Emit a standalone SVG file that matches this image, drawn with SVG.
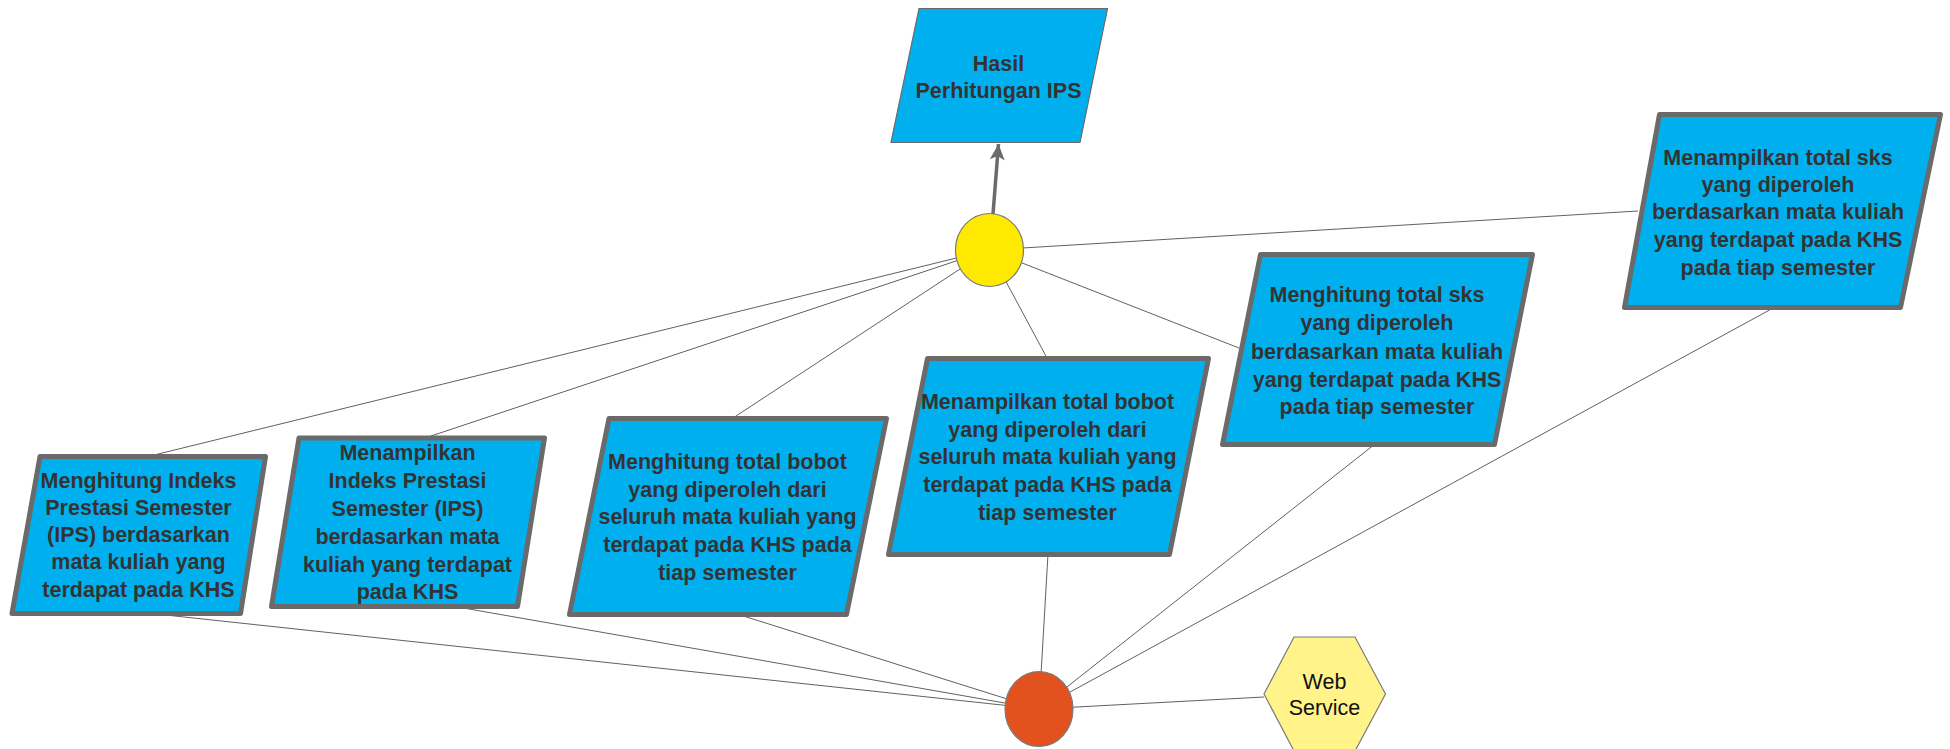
<svg xmlns="http://www.w3.org/2000/svg" width="1950" height="749" viewBox="0 0 1950 749">
  <defs>
    <style>
      .link { stroke: #616161; stroke-width: 1; fill: none; }
      .flow { stroke: #6b6b6b; stroke-width: 3.5; fill: none; }
      .proc { fill: #00B0EE; stroke: #6a6a6a; stroke-width: 5; stroke-linejoin: round; }
      .out { fill: #00B0EE; stroke: #6a6a6a; stroke-width: 1.2; }
      .lbl { font-family: "Liberation Sans", Arial, sans-serif; font-weight: bold; font-size: 21.5px; fill: #333333; text-anchor: middle; }
      .svc { font-family: "Liberation Sans", Arial, sans-serif; font-size: 21.5px; fill: #111111; text-anchor: middle; }
      .join { stroke: #7a7a7a; stroke-width: 1.2; }
    </style>
    <marker id="arrow" markerUnits="userSpaceOnUse" markerWidth="18" markerHeight="18" viewBox="0 0 18 18" refX="16" refY="9" orient="auto">
      <path d="M0,1.5 L16,9 L0,16.5 L4,9 Z" fill="#6b6b6b"/>
    </marker>
  </defs>

  <!-- connectors -->
  <g id="connectors">
    <!-- hub to process steps -->
    <line class="link" x1="989" y1="250" x2="150" y2="456"/>
    <line class="link" x1="989" y1="250" x2="425" y2="438"/>
    <line class="link" x1="989" y1="250" x2="733" y2="418"/>
    <line class="link" x1="989" y1="250" x2="1047" y2="358"/>
    <line class="link" x1="989" y1="250" x2="1239" y2="348"/>
    <line class="link" x1="989" y1="250" x2="1638" y2="211"/>
    <!-- service endpoint to process steps -->
    <line class="link" x1="1039" y1="709" x2="147" y2="613"/>
    <line class="link" x1="1039" y1="709" x2="452" y2="606"/>
    <line class="link" x1="1039" y1="709" x2="737" y2="614"/>
    <line class="link" x1="1039" y1="709" x2="1048" y2="554"/>
    <line class="link" x1="1039" y1="709" x2="1375" y2="444"/>
    <line class="link" x1="1039" y1="709" x2="1775" y2="307"/>
    <line class="link" x1="1039" y1="709" x2="1264" y2="697"/>
    <!-- hub to result -->
    <line class="flow" x1="993" y1="214" x2="998.5" y2="144" marker-end="url(#arrow)"/>
  </g>

  <g id="hasil">
    <path class="out" d="M919,8.5 L1107.5,8.5 L1080,142.5 L891,142.5 Z"/>
    <text class="lbl" x="998.5" y="71">Hasil</text>
    <text class="lbl" x="998.5" y="97.5">Perhitungan IPS</text>
  </g>

  <g id="hub">
    <ellipse class="join" cx="989.5" cy="250" rx="34" ry="36.5" fill="#FFE900"/>
  </g>

  <g id="endpoint">
    <ellipse class="join" cx="1039" cy="709" rx="34" ry="37.5" fill="#E2521F"/>
  </g>

  <g id="web-service">
    <path d="M1264,694 L1294,637 L1355,637 L1385.5,694 L1355,751 L1294,751 Z" fill="#FFF38A" stroke="#7a7a7a" stroke-width="1.2"/>
    <text class="svc" x="1324.5" y="689">Web</text>
    <text class="svc" x="1324.5" y="715">Service</text>
  </g>

  <g id="hitung-ips">
    <path class="proc" d="M40,456.5 L265.5,456.5 L240.5,613.5 L12,613.5 Z"/>
    <text class="lbl" x="138.5" y="488">Menghitung Indeks</text>
    <text class="lbl" x="138.5" y="515">Prestasi Semester</text>
    <text class="lbl" x="138.5" y="542">(IPS) berdasarkan</text>
    <text class="lbl" x="138.5" y="569">mata kuliah yang</text>
    <text class="lbl" x="138.5" y="596.5">terdapat pada KHS</text>
  </g>

  <g id="tampil-ips">
    <path class="proc" d="M299,438 L544.5,438 L517.5,606.5 L271.5,606.5 Z"/>
    <text class="lbl" x="407.5" y="460">Menampilkan</text>
    <text class="lbl" x="407.5" y="488">Indeks Prestasi</text>
    <text class="lbl" x="407.5" y="515.5">Semester (IPS)</text>
    <text class="lbl" x="407.5" y="543.5">berdasarkan mata</text>
    <text class="lbl" x="407.5" y="571.5">kuliah yang terdapat</text>
    <text class="lbl" x="407.5" y="599">pada KHS</text>
  </g>

  <g id="hitung-bobot">
    <path class="proc" d="M609,418.5 L886.5,418.5 L846.5,614.5 L569.5,614.5 Z"/>
    <text class="lbl" x="727.5" y="469">Menghitung total bobot</text>
    <text class="lbl" x="727.5" y="496.5">yang diperoleh dari</text>
    <text class="lbl" x="727.5" y="523.5">seluruh mata kuliah yang</text>
    <text class="lbl" x="727.5" y="551.5">terdapat pada KHS pada</text>
    <text class="lbl" x="727.5" y="580">tiap semester</text>
  </g>

  <g id="tampil-bobot">
    <path class="proc" d="M927.5,358.5 L1208.5,358.5 L1169.5,554.5 L888.5,554.5 Z"/>
    <text class="lbl" x="1047.5" y="409">Menampilkan total bobot</text>
    <text class="lbl" x="1047.5" y="436.5">yang diperoleh dari</text>
    <text class="lbl" x="1047.5" y="464">seluruh mata kuliah yang</text>
    <text class="lbl" x="1047.5" y="491.5">terdapat pada KHS pada</text>
    <text class="lbl" x="1047.5" y="520">tiap semester</text>
  </g>

  <g id="hitung-sks">
    <path class="proc" d="M1260.5,254.5 L1532.5,254.5 L1494.5,444.5 L1222.5,444.5 Z"/>
    <text class="lbl" x="1377" y="301.5">Menghitung total sks</text>
    <text class="lbl" x="1377" y="330">yang diperoleh</text>
    <text class="lbl" x="1377" y="358.5">berdasarkan mata kuliah</text>
    <text class="lbl" x="1377" y="386.5">yang terdapat pada KHS</text>
    <text class="lbl" x="1377" y="413.5">pada tiap semester</text>
  </g>

  <g id="tampil-sks">
    <path class="proc" d="M1659.5,114.5 L1940.5,114.5 L1900.5,307.5 L1624.5,307.5 Z"/>
    <text class="lbl" x="1778" y="165">Menampilkan total sks</text>
    <text class="lbl" x="1778" y="192">yang diperoleh</text>
    <text class="lbl" x="1778" y="219">berdasarkan mata kuliah</text>
    <text class="lbl" x="1778" y="246.5">yang terdapat pada KHS</text>
    <text class="lbl" x="1778" y="275">pada tiap semester</text>
  </g>
</svg>
